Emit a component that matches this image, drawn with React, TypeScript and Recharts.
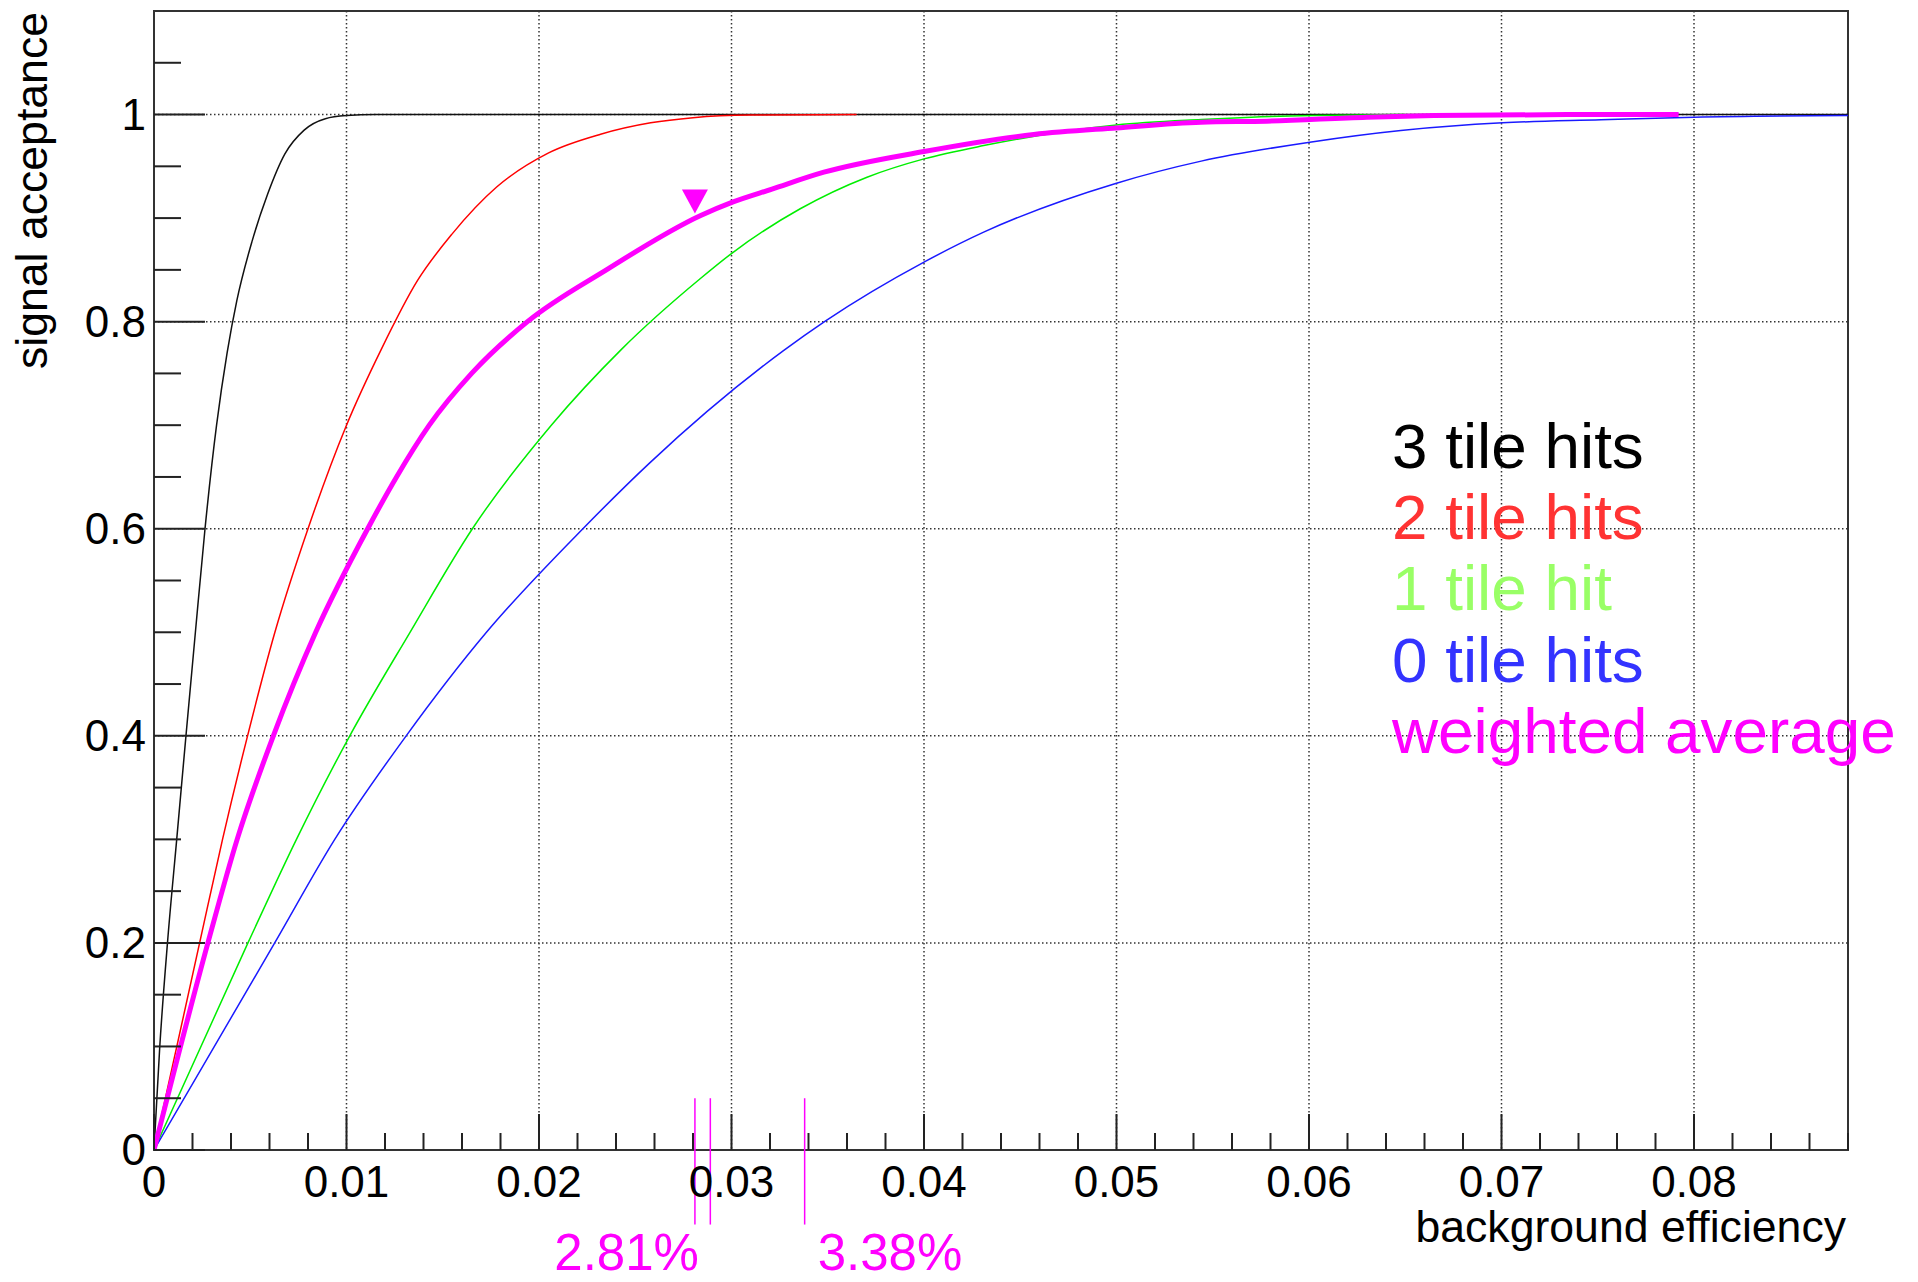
import {
  CartesianGrid,
  Legend,
  Line,
  LineChart,
  ReferenceArea,
  ReferenceDot,
  ReferenceLine,
  XAxis,
  YAxis,
} from 'recharts';

const FONT = '"Liberation Sans", Arial, Helvetica, sans-serif';

// background efficiency (x) vs signal acceptance (y)
const hits3X = [0, 0.0003, 0.0007, 0.00118, 0.00166, 0.00215, 0.00265, 0.00325, 0.0038, 0.0043, 0.0051, 0.0059, 0.0068, 0.0078, 0.0089, 0.01, 0.0115, 0.088];
const hits3Y = [0, 0.1, 0.2, 0.3, 0.4, 0.5, 0.6, 0.7, 0.77, 0.82, 0.878, 0.923, 0.962, 0.985, 0.996, 0.999, 1, 1];

const hits2X = [0, 0.00237, 0.00356, 0.00486, 0.00628, 0.008, 0.01, 0.0118, 0.0137, 0.0155, 0.0178, 0.0205, 0.0232, 0.0258, 0.028, 0.031, 0.0365];
const hits2Y = [0, 0.2, 0.3, 0.4, 0.5, 0.6, 0.7, 0.773, 0.84, 0.885, 0.93, 0.963, 0.981, 0.992, 0.997, 0.9995, 1];

const hits1X = [0, 0.00488, 0.0074, 0.01017, 0.0133, 0.01654, 0.02064, 0.02427, 0.02837, 0.03005, 0.03357, 0.03704, 0.04, 0.0431, 0.05, 0.0544, 0.057, 0.0602, 0.065];
const hits1Y = [0, 0.2, 0.3, 0.4, 0.5, 0.6, 0.7, 0.773, 0.8414, 0.8665, 0.909, 0.9395, 0.9572, 0.97, 0.99, 0.9952, 0.9974, 0.999, 1];

const hits0X = [0, 0.00627, 0.00939, 0.0131, 0.01727, 0.02228, 0.02574, 0.0327, 0.03487, 0.04, 0.0431, 0.05, 0.0544, 0.06004, 0.06477, 0.07006, 0.07517, 0.08, 0.088];
const hits0Y = [0, 0.2, 0.3, 0.4, 0.5, 0.6, 0.6634, 0.772, 0.8005, 0.8575, 0.8864, 0.9337, 0.955, 0.9733, 0.9846, 0.992, 0.9949, 0.9974, 0.999];

const avgX = [0, 0.0028, 0.00432, 0.0062, 0.0084, 0.0111, 0.0126, 0.0143, 0.0165, 0.0194, 0.0235, 0.0284, 0.03005, 0.0321, 0.0348, 0.04, 0.0457, 0.05, 0.0544, 0.0578, 0.063, 0.0665, 0.0734, 0.0792];
const avgY = [0, 0.2, 0.3, 0.4, 0.5, 0.6, 0.65, 0.7, 0.75, 0.8, 0.85, 0.9025, 0.9154, 0.928, 0.9443, 0.9643, 0.9807, 0.9871, 0.9926, 0.9936, 0.9974, 0.999, 1, 1];

// cut markers under the x axis and the chosen working point
const cutValues = [0.0281, 0.0289, 0.0338];
const cutLabels = ['2.81%', '', '3.38%'];
const workingPoint = { x: 0.0281, y: 0.916 };

const xMajorTicks = [0, 0.01, 0.02, 0.03, 0.04, 0.05, 0.06, 0.07, 0.08];
const xTickLabels = ['0', '0.01', '0.02', '0.03', '0.04', '0.05', '0.06', '0.07', '0.08'];
const yMajorTicks = [0, 0.2, 0.4, 0.6, 0.8, 1];
const yTickLabels = ['0', '0.2', '0.4', '0.6', '0.8', '1'];

const X_MAX = 0.088;
const Y_MAX = 1.1;

// minor ticks: x every 0.002, y every 0.05
const xAllTicks: number[] = [];
for (let i = 0; i <= 44; i++) xAllTicks.push(Number((i * 0.002).toFixed(3)));
const yAllTicks: number[] = [];
for (let i = 0; i <= 21; i++) yAllTicks.push(Number((i * 0.05).toFixed(2)));

const toPoints = (xs: number[], ys: number[]) => xs.map((x, i) => ({ x, y: ys[i] }));

const series = [
  { name: '3 tile hits', data: toPoints(hits3X, hits3Y), stroke: '#111111', width: 1.5, text: '#000000' },
  { name: '2 tile hits', data: toPoints(hits2X, hits2Y), stroke: '#ff0000', width: 1.5, text: '#ff3333' },
  { name: '1 tile hit', data: toPoints(hits1X, hits1Y), stroke: '#00ee00', width: 1.5, text: '#99ff66' },
  { name: '0 tile hits', data: toPoints(hits0X, hits0Y), stroke: '#1a1aff', width: 1.5, text: '#3333ff' },
  { name: 'weighted average', data: toPoints(avgX, avgY), stroke: '#ff00ff', width: 5, text: '#ff00ff' },
];

const findTick = (list: number[], v: number) => list.findIndex((t) => Math.abs(t - v) < 1e-9);

function XTick(props: any) {
  const { x, y, payload } = props;
  const i = findTick(xMajorTicks, payload.value);
  return (
    <g>
      <line x1={x} x2={x} y1={y} y2={y - (i >= 0 ? 36 : 17)} stroke="#222" strokeWidth={2} />
      {i >= 0 && (
        <text x={x} y={y + 47} textAnchor="middle" fontSize={44} fontFamily={FONT} fill="#000">
          {xTickLabels[i]}
        </text>
      )}
    </g>
  );
}

function YTick(props: any) {
  const { x, y, payload } = props;
  if (payload.value > 1.075) return null;
  const i = findTick(yMajorTicks, payload.value);
  return (
    <g>
      <line x1={x} x2={x + (i >= 0 ? 51 : 27)} y1={y} y2={y} stroke="#222" strokeWidth={2} />
      {i >= 0 && (
        <text x={x - 8} y={y + 15} textAnchor="end" fontSize={44} fontFamily={FONT} fill="#000">
          {yTickLabels[i]}
        </text>
      )}
    </g>
  );
}

const cutShape = (label: string, anchorEnd: boolean) => (p: any) => (
  <g>
    <line x1={p.x1} y1={p.y1} x2={p.x2} y2={p.y2} stroke="#ff00ff" strokeWidth={1.5} />
    {label && (
      <text
        x={anchorEnd ? p.x1 + 4 : p.x1 + 13}
        y={Math.max(p.y1, p.y2) + 45}
        textAnchor={anchorEnd ? 'end' : 'start'}
        fontSize={51}
        fontFamily={FONT}
        fill="#ff00ff"
      >
        {label}
      </text>
    )}
  </g>
);

const Triangle = (p: any) => (
  <polygon
    points={`${p.cx - 13},${p.cy - 12} ${p.cx + 13},${p.cy - 12} ${p.cx},${p.cy + 12}`}
    fill="#ff00ff"
  />
);

export default function App() {
  return (
    <div style={{ position: 'absolute', left: 0, top: 0, width: 1918, height: 1282, background: '#fff' }}>
      <LineChart width={1918} height={1282} margin={{ top: 11, right: 70, bottom: 0, left: 0 }}>
        <CartesianGrid
          horizontalValues={yMajorTicks.slice(1)}
          verticalValues={xMajorTicks.slice(1)}
          stroke="#333"
          strokeWidth={1.5}
          strokeDasharray="1.5 2.5"
        />
        <XAxis
          type="number"
          dataKey="x"
          domain={[0, X_MAX]}
          ticks={xAllTicks}
          interval={0}
          allowDataOverflow
          height={132}
          axisLine={false}
          tickLine={false}
          tickSize={0}
          tickMargin={0}
          tick={XTick}
          label={{
            content: (p: any) => {
              const vb = p.viewBox ?? { x: 154, y: 1150, width: 1694 };
              return (
                <text x={vb.x + vb.width - 2} y={vb.y + 92} textAnchor="end" fontSize={44.6} fontFamily={FONT} fill="#000">
                  background efficiency
                </text>
              );
            },
          }}
        />
        <YAxis
          type="number"
          domain={[0, Y_MAX]}
          ticks={yAllTicks}
          interval={0}
          allowDataOverflow
          width={154}
          axisLine={false}
          tickLine={false}
          tickSize={0}
          tickMargin={0}
          tick={YTick}
          label={{
            content: (p: any) => {
              const vb = p.viewBox ?? { x: 0, y: 11 };
              const tx = vb.x + 46.7;
              const ty = vb.y + 1;
              return (
                <text
                  x={tx}
                  y={ty}
                  transform={`rotate(-90 ${tx} ${ty})`}
                  textAnchor="end"
                  fontSize={44.6}
                  fontFamily={FONT}
                  fill="#000"
                >
                  signal acceptance
                </text>
              );
            },
          }}
        />
        <ReferenceArea x1={0} x2={X_MAX} y1={0} y2={Y_MAX} fill="none" stroke="#333" strokeWidth={2} />
        {series.map((s) => (
          <Line
            key={s.name}
            name={s.name}
            data={s.data}
            dataKey="y"
            type="monotone"
            stroke={s.stroke}
            strokeWidth={s.width}
            dot={false}
            activeDot={false}
            isAnimationActive={false}
          />
        ))}
        {cutValues.map((c, i) => (
          <ReferenceLine
            key={c}
            segment={[
              { x: c, y: 0.05 },
              { x: c, y: -0.072 },
            ]}
            ifOverflow="visible"
            stroke="#ff00ff"
            shape={cutShape(cutLabels[i], i === 0)}
          />
        ))}
        <ReferenceDot x={workingPoint.x} y={workingPoint.y} r={13} ifOverflow="visible" shape={Triangle} />
        <Legend
          layout="vertical"
          align="center"
          verticalAlign="middle"
          wrapperStyle={{ left: 1392, top: 411, width: 524, height: 'auto' }}
          content={() => (
            <div style={{ fontFamily: FONT, fontSize: 63.8, lineHeight: '71.2px' }}>
              {series.map((s) => (
                <div key={s.name} style={{ color: s.text, whiteSpace: 'nowrap' }}>
                  {s.name}
                </div>
              ))}
            </div>
          )}
        />
      </LineChart>
    </div>
  );
}
